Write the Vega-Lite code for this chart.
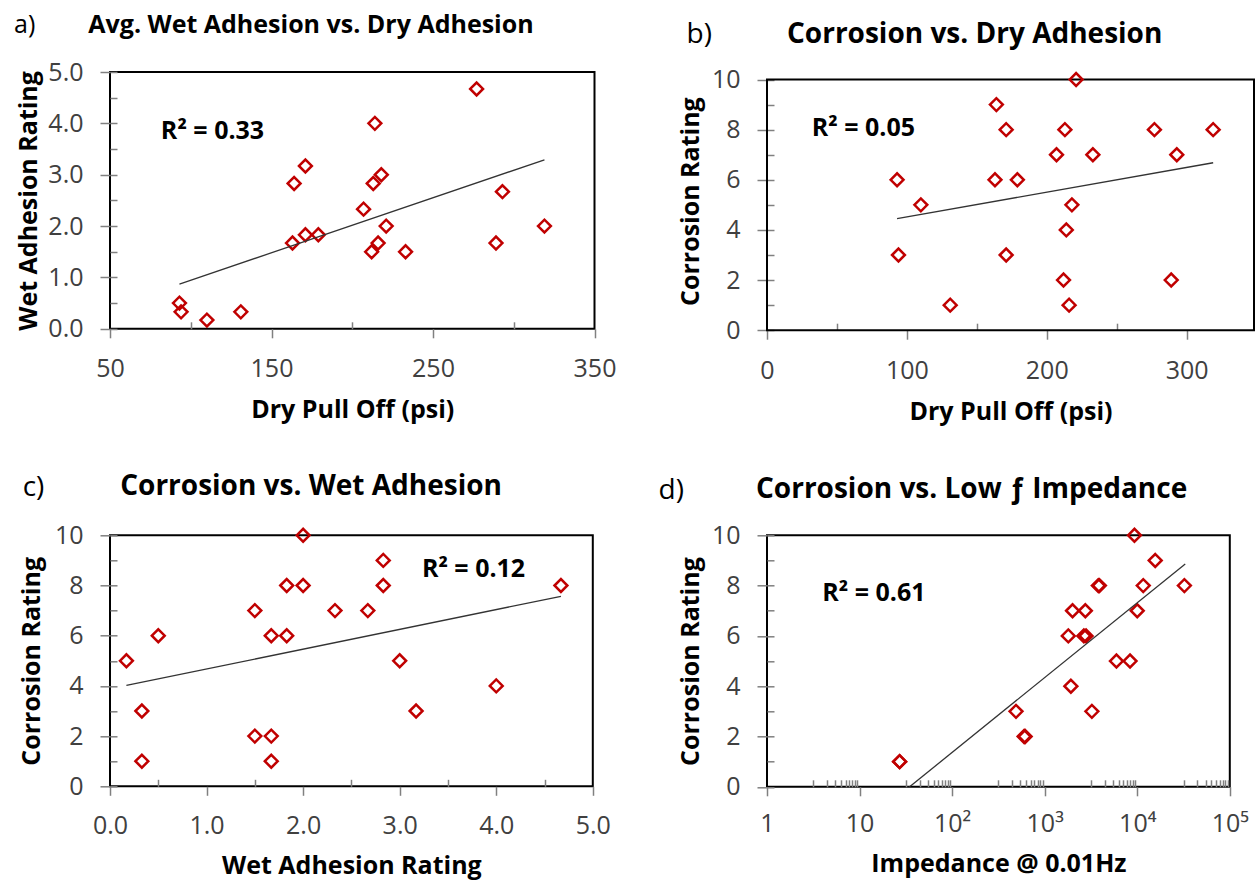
{
  "$schema": "https://vega.github.io/schema/vega-lite/v6.json",
  "background": "white",
  "padding": {"left": 12, "top": 11, "right": 0, "bottom": 0},
  "datasets": {
    "samples": [
      {"dry": 277, "wet": 4.67, "corr": 8, "imp": 3800},
      {"dry": 214, "wet": 4.0, "corr": 4, "imp": 1919},
      {"dry": 171, "wet": 3.17, "corr": 3, "imp": 3235},
      {"dry": 164, "wet": 2.83, "corr": 9, "imp": 15640},
      {"dry": 218, "wet": 3.0, "corr": 5, "imp": 5960},
      {"dry": 213, "wet": 2.83, "corr": 8, "imp": 3900},
      {"dry": 293, "wet": 2.67, "corr": 7, "imp": 2000},
      {"dry": 207, "wet": 2.33, "corr": 7, "imp": 2750},
      {"dry": 221, "wet": 2.0, "corr": 10, "imp": 9330},
      {"dry": 319, "wet": 2.0, "corr": 8, "imp": 32300},
      {"dry": 163, "wet": 1.67, "corr": 6, "imp": 1800},
      {"dry": 171, "wet": 1.83, "corr": 8, "imp": 11610},
      {"dry": 179, "wet": 1.83, "corr": 6, "imp": 2650},
      {"dry": 216, "wet": 1.67, "corr": 1, "imp": 27.1},
      {"dry": 212, "wet": 1.5, "corr": 2, "imp": 600},
      {"dry": 233, "wet": 1.5, "corr": 7, "imp": 10000},
      {"dry": 289, "wet": 1.67, "corr": 2, "imp": 615},
      {"dry": 93, "wet": 0.5, "corr": 6, "imp": 2800},
      {"dry": 94, "wet": 0.33, "corr": 3, "imp": 490},
      {"dry": 110, "wet": 0.17, "corr": 5, "imp": 8360},
      {"dry": 131, "wet": 0.33, "corr": 1, "imp": 27.1}
    ],
    "trends": [
      {"panel": "a", "x": 93, "y": 0.87}, {"panel": "a", "x": 319, "y": 3.29},
      {"panel": "b", "x": 93, "y": 4.45}, {"panel": "b", "x": 319, "y": 6.68},
      {"panel": "c", "x": 0.17, "y": 4.02}, {"panel": "c", "x": 4.67, "y": 7.57},
      {"panel": "d", "x": 27.1, "y": -0.32}, {"panel": "d", "x": 33000, "y": 8.86}
    ],
    "notes": [
      {"panel": "a", "x": 81.5, "y": 3.69, "label": "R² = 0.33"},
      {"panel": "b", "x": 32, "y": 7.74, "label": "R² = 0.05"},
      {"panel": "c", "x": 3.23, "y": 8.32, "label": "R² = 0.12"},
      {"panel": "d", "x": 3.95, "y": 7.37, "label": "R² = 0.61"}
    ]
  },
  "config": {
    "font": "Open Sans",
    "view": {"stroke": "black", "strokeWidth": 2},
    "axis": {
      "grid": false, "domain": false,
      "labelFont": "Open Sans", "labelFontSize": 25, "labelColor": "#404040",
      "titleFont": "Open Sans", "titleFontSize": 25, "titleFontWeight": "bold", "titleColor": "black",
      "tickColor": "#808080", "tickWidth": 1.5, "labelFlush": false, "labelOverlap": false
    },
    "title": {"font": "Open Sans", "color": "black", "fontWeight": "bold", "anchor": "start", "frame": "group"}
  },
  "columns": 2,
  "align": "each",
  "bounds": "flush",
  "spacing": {"row": 204.3, "column": 172},
  "concat": [
    {
      "width": 484.5, "height": 256.8,
      "title": {"text": "Avg. Wet Adhesion vs. Dry Adhesion", "fontSize": 25, "dx": -21.7, "offset": -25},
      "layer": [
        {
          "data": {"name": "samples"},
          "mark": {"type": "point", "shape": "diamond", "filled": false, "color": "#C00000", "size": 165, "strokeWidth": 2.5, "opacity": 1},
          "encoding": {
            "x": {"field": "dry", "type": "quantitative", "scale": {"domain": [50, 350], "nice": false, "zero": false},
                  "axis": {"title": "Dry Pull Off (psi)", "values": [50, 150, 250, 350], "format": "d", "tickSize": 9, "labelPadding": 19, "titlePadding": 16, "orient": "bottom"}},
            "y": {"field": "wet", "type": "quantitative", "scale": {"domain": [0, 5], "nice": false},
                  "axis": {"title": "Wet Adhesion Rating", "values": [0, 1, 2, 3, 4, 5], "format": ".1f", "tickSize": 10, "labelPadding": 17, "titlePadding": 6, "orient": "left"}}
          }
        },
        {
          "data": {"name": "trends"},
          "transform": [{"filter": "datum.panel == 'a'"}],
          "mark": {"type": "line", "color": "#333333", "strokeWidth": 1.3, "clip": true},
          "encoding": {
            "x": {"field": "x", "type": "quantitative", "scale": {"domain": [50, 350], "nice": false, "zero": false},
                  "axis": {"title": null, "labels": false, "values": [100, 200, 300], "tickSize": -7, "orient": "bottom"}},
            "y": {"field": "y", "type": "quantitative", "scale": {"domain": [0, 5], "nice": false},
                  "axis": {"title": null, "labels": false, "values": [0, 0.5, 1, 1.5, 2, 2.5, 3, 3.5, 4, 4.5, 5], "tickSize": -7, "orient": "left"}}
          }
        },
        {
          "data": {"name": "notes"},
          "transform": [{"filter": "datum.panel == 'a'"}],
          "mark": {"type": "text", "align": "left", "baseline": "alphabetic", "fontSize": 25, "fontWeight": "bold", "font": "Open Sans", "color": "black"},
          "encoding": {
            "x": {"field": "x", "type": "quantitative", "scale": {"domain": [50, 350], "nice": false, "zero": false},
                  "axis": {"orient": "top", "title": "a)", "labels": false, "ticks": false, "domain": false, "titleX": -96.5, "titleY": -39.2, "titleAlign": "left", "titleBaseline": "alphabetic", "titleAngle": 0, "titleFontWeight": "normal", "titleFontSize": 25, "titlePadding": 0}},
            "y": {"field": "y", "type": "quantitative", "axis": null},
            "text": {"field": "label"}
          }
        }
      ],
      "resolve": {"axis": {"x": "independent", "y": "independent"}}
    },
    {
      "width": 487, "height": 258.2,
      "view": {"stroke": null},
      "title": {"text": "Corrosion vs. Dry Adhesion", "fontSize": 28, "dx": 20, "offset": -28},
      "layer": [
        {
          "data": {"values": [{}]},
          "mark": {"type": "rect", "filled": false, "stroke": "black", "strokeWidth": 2},
          "encoding": {
            "x": {"datum": 0, "type": "quantitative", "scale": {"domain": [0, 348.2], "nice": false, "zero": false}, "axis": null},
            "x2": {"datum": 348.2},
            "y": {"datum": 0, "type": "quantitative", "scale": {"domain": [0, 10.3], "nice": false}, "axis": null},
            "y2": {"datum": 10}
          }
        },
        {
          "data": {"name": "samples"},
          "mark": {"type": "point", "shape": "diamond", "filled": false, "color": "#C00000", "size": 165, "strokeWidth": 2.5, "opacity": 1},
          "encoding": {
            "x": {"field": "dry", "type": "quantitative", "scale": {"domain": [0, 348.2], "nice": false, "zero": false},
                  "axis": {"title": "Dry Pull Off (psi)", "values": [0, 100, 200, 300], "format": "d", "tickSize": 9, "labelPadding": 19, "titlePadding": 16, "orient": "bottom"}},
            "y": {"field": "corr", "type": "quantitative", "scale": {"domain": [0, 10.3], "nice": false},
                  "axis": {"title": "Corrosion Rating", "values": [0, 2, 4, 6, 8, 10], "format": "d", "tickSize": 10, "labelPadding": 17, "titlePadding": 8, "orient": "left"}}
          }
        },
        {
          "data": {"name": "trends"},
          "transform": [{"filter": "datum.panel == 'b'"}],
          "mark": {"type": "line", "color": "#333333", "strokeWidth": 1.3, "clip": true},
          "encoding": {
            "x": {"field": "x", "type": "quantitative", "scale": {"domain": [0, 348.2], "nice": false, "zero": false},
                  "axis": {"title": null, "labels": false, "values": [50, 150, 250], "tickSize": -7, "orient": "bottom"}},
            "y": {"field": "y", "type": "quantitative", "scale": {"domain": [0, 10.3], "nice": false},
                  "axis": {"title": null, "labels": false, "values": [0, 1, 2, 3, 4, 5, 6, 7, 8, 9, 10], "tickSize": -7, "orient": "left"}}
          }
        },
        {
          "data": {"name": "notes"},
          "transform": [{"filter": "datum.panel == 'b'"}],
          "mark": {"type": "text", "align": "left", "baseline": "alphabetic", "fontSize": 25, "fontWeight": "bold", "font": "Open Sans", "color": "black"},
          "encoding": {
            "x": {"field": "x", "type": "quantitative", "scale": {"domain": [0, 348.2], "nice": false, "zero": false},
                  "axis": {"orient": "top", "title": "b)", "labels": false, "ticks": false, "domain": false, "titleX": -81, "titleY": -29.5, "titleAlign": "left", "titleBaseline": "alphabetic", "titleAngle": 0, "titleFontWeight": "normal", "titleFontSize": 28, "titlePadding": 0}},
            "y": {"field": "y", "type": "quantitative", "axis": null},
            "text": {"field": "label"}
          }
        }
      ],
      "resolve": {"axis": {"x": "independent", "y": "independent"}}
    },
    {
      "width": 482.8, "height": 251,
      "title": {"text": "Corrosion vs. Wet Adhesion", "fontSize": 28, "dx": 10.2, "offset": -28},
      "layer": [
        {
          "data": {"name": "samples"},
          "mark": {"type": "point", "shape": "diamond", "filled": false, "color": "#C00000", "size": 165, "strokeWidth": 2.5, "opacity": 1},
          "encoding": {
            "x": {"field": "wet", "type": "quantitative", "scale": {"domain": [0, 5], "nice": false, "zero": false},
                  "axis": {"title": "Wet Adhesion Rating", "values": [0, 1, 2, 3, 4, 5], "format": ".1f", "tickSize": 9, "labelPadding": 18, "titlePadding": 15, "orient": "bottom"}},
            "y": {"field": "corr", "type": "quantitative", "scale": {"domain": [0, 10], "nice": false},
                  "axis": {"title": "Corrosion Rating", "values": [0, 2, 4, 6, 8, 10], "format": "d", "tickSize": 10, "labelPadding": 17, "titlePadding": 10, "orient": "left"}}
          }
        },
        {
          "data": {"name": "trends"},
          "transform": [{"filter": "datum.panel == 'c'"}],
          "mark": {"type": "line", "color": "#333333", "strokeWidth": 1.3, "clip": true},
          "encoding": {
            "x": {"field": "x", "type": "quantitative", "scale": {"domain": [0, 5], "nice": false, "zero": false},
                  "axis": {"title": null, "labels": false, "values": [0.5, 1.5, 2.5, 3.5, 4.5], "tickSize": -7, "orient": "bottom"}},
            "y": {"field": "y", "type": "quantitative", "scale": {"domain": [0, 10], "nice": false},
                  "axis": {"title": null, "labels": false, "values": [0, 1, 2, 3, 4, 5, 6, 7, 8, 9, 10], "tickSize": -7, "orient": "left"}}
          }
        },
        {
          "data": {"name": "notes"},
          "transform": [{"filter": "datum.panel == 'c'"}],
          "mark": {"type": "text", "align": "left", "baseline": "alphabetic", "fontSize": 25, "fontWeight": "bold", "font": "Open Sans", "color": "black"},
          "encoding": {
            "x": {"field": "x", "type": "quantitative", "scale": {"domain": [0, 5], "nice": false, "zero": false},
                  "axis": {"orient": "top", "title": "c)", "labels": false, "ticks": false, "domain": false, "titleX": -87.8, "titleY": -40, "titleAlign": "left", "titleBaseline": "alphabetic", "titleAngle": 0, "titleFontWeight": "normal", "titleFontSize": 28, "titlePadding": 0}},
            "y": {"field": "y", "type": "quantitative", "axis": null},
            "text": {"field": "label"}
          }
        }
      ],
      "resolve": {"axis": {"x": "independent", "y": "independent"}}
    },
    {
      "width": 462.8, "height": 251.5,
      "title": {"text": "Corrosion vs. Low ƒ Impedance", "fontSize": 28, "dx": -11, "offset": -28},
      "layer": [
        {
          "data": {"name": "samples"},
          "mark": {"type": "point", "shape": "diamond", "filled": false, "color": "#C00000", "size": 165, "strokeWidth": 2.5, "opacity": 1},
          "encoding": {
            "x": {"field": "imp", "type": "quantitative", "scale": {"type": "log", "domain": [1, 100000], "nice": false},
                  "axis": {"title": "Impedance @ 0.01Hz", "values": [1, 10, 100, 1000, 10000, 100000], "labelExpr": "datum.value < 5 ? '1' : datum.value < 50 ? '10' : datum.value < 500 ? '10²' : datum.value < 5000 ? '10³' : datum.value < 50000 ? '10⁴' : '10⁵'", "tickSize": 9, "labelPadding": 16, "titlePadding": 15, "orient": "bottom"}},
            "y": {"field": "corr", "type": "quantitative", "scale": {"domain": [0, 10], "nice": false},
                  "axis": {"title": "Corrosion Rating", "values": [0, 2, 4, 6, 8, 10], "format": "d", "tickSize": 10, "labelPadding": 17, "titlePadding": 8, "orient": "left"}}
          }
        },
        {
          "data": {"name": "trends"},
          "transform": [{"filter": "datum.panel == 'd'"}],
          "mark": {"type": "line", "color": "#333333", "strokeWidth": 1.3, "clip": true},
          "encoding": {
            "x": {"field": "x", "type": "quantitative", "scale": {"type": "log", "domain": [1, 100000], "nice": false},
                  "axis": {"title": null, "labels": false, "tickSize": -7, "orient": "bottom",
                           "values": [3.162, 4.472, 5.477, 6.325, 7.071, 7.746, 8.367, 8.944, 9.487,
                                      31.62, 44.72, 54.77, 63.25, 70.71, 77.46, 83.67, 89.44, 94.87,
                                      316.2, 447.2, 547.7, 632.5, 707.1, 774.6, 836.7, 894.4, 948.7,
                                      3162, 4472, 5477, 6325, 7071, 7746, 8367, 8944, 9487,
                                      31620, 44720, 54770, 63250, 70710, 77460, 83670, 89440, 94870]}},
            "y": {"field": "y", "type": "quantitative", "scale": {"domain": [0, 10], "nice": false},
                  "axis": {"title": null, "labels": false, "values": [0, 1, 2, 3, 4, 5, 6, 7, 8, 9, 10], "tickSize": -7, "orient": "left"}}
          }
        },
        {
          "data": {"name": "notes"},
          "transform": [{"filter": "datum.panel == 'd'"}],
          "mark": {"type": "text", "align": "left", "baseline": "alphabetic", "fontSize": 25, "fontWeight": "bold", "font": "Open Sans", "color": "black"},
          "encoding": {
            "x": {"field": "x", "type": "quantitative", "scale": {"type": "log", "domain": [1, 100000], "nice": false},
                  "axis": {"orient": "top", "title": "d)", "labels": false, "ticks": false, "domain": false, "titleX": -109, "titleY": -37, "titleAlign": "left", "titleBaseline": "alphabetic", "titleAngle": 0, "titleFontWeight": "normal", "titleFontSize": 28, "titlePadding": 0}},
            "y": {"field": "y", "type": "quantitative", "axis": null},
            "text": {"field": "label"}
          }
        }
      ],
      "resolve": {"axis": {"x": "independent", "y": "independent"}}
    }
  ]
}
